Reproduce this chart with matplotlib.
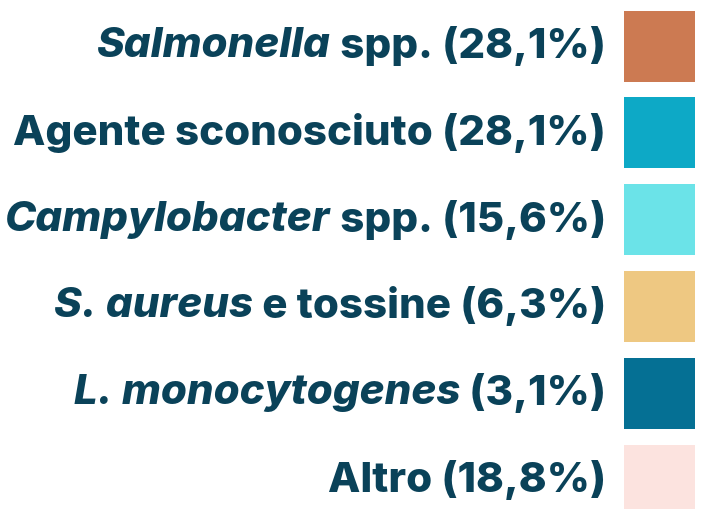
import matplotlib
matplotlib.use("Agg")
import matplotlib.pyplot as plt
from matplotlib.patches import Rectangle

italic_parts = ["Salmonella", "", "Campylobacter", "S. aureus", "L. monocytogenes", ""]
plain_parts = [" spp. (28,1%)", "Agente sconosciuto (28,1%)", " spp. (15,6%)",
               " e tossine (6,3%)", " (3,1%)", "Altro (18,8%)"]
colors = ["#CC7A52", "#0DA9C6", "#6BE3E8", "#EEC882", "#057094", "#FCE3DF"]

W, H = 701, 509
fig = plt.figure(figsize=(W / 100, H / 100), dpi=100)
ax = fig.add_axes([0, 0, 1, 1])
ax.set_xlim(0, W)
ax.set_ylim(H, 0)
ax.axis("off")

text_color = "#0A4259"
font = "Inter"
fs = 30.3
weight = 800
row0, step = 46, 86.8
text_right = 606
sw_left, sw_size = 624, 71

fig.canvas.draw()
renderer = fig.canvas.get_renderer()
inv = ax.transData.inverted()

for i, (it, pl, c) in enumerate(zip(italic_parts, plain_parts, colors)):
    y = row0 + i * step
    t = ax.text(text_right, y, pl, ha="right", va="center", fontsize=fs,
                fontweight=weight, family=font, color=text_color)
    if it:
        bb = t.get_window_extent(renderer=renderer)
        x0 = inv.transform((bb.x0, bb.y0))[0]
        ax.text(x0, y, it, ha="right", va="center", fontsize=fs,
                fontweight=weight, fontstyle="italic", family=font, color=text_color)
    ax.add_patch(Rectangle((sw_left, y - sw_size / 2), sw_size, sw_size,
                           facecolor=c, edgecolor="none"))

fig.savefig("out.png", dpi=100, facecolor="white")
